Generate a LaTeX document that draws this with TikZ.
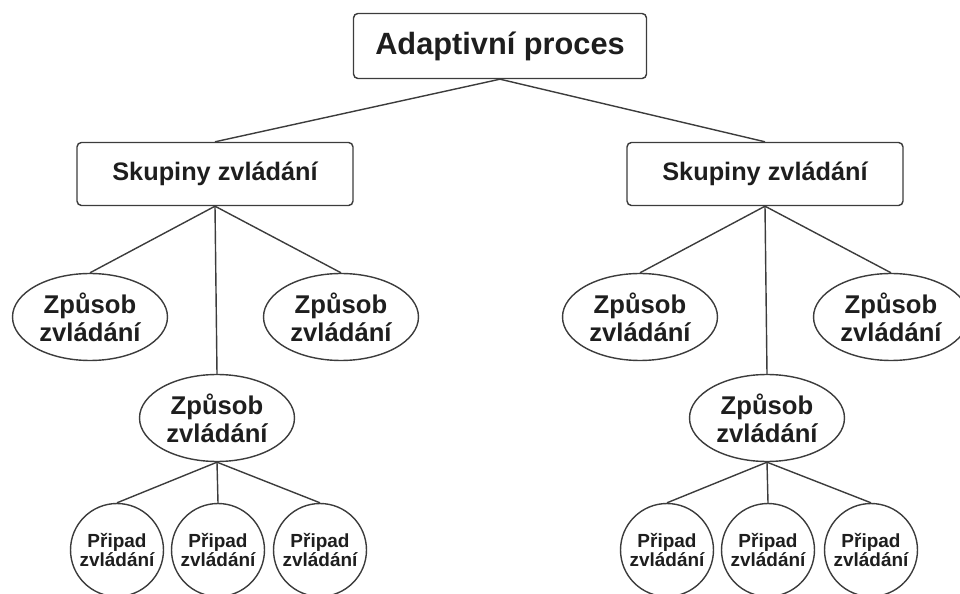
\documentclass[tikz,border=0pt]{standalone}
\usepackage{fontspec}
\setmainfont{Liberation Sans}
\usetikzlibrary{shapes.geometric}

\definecolor{ln}{RGB}{60,60,60}
\definecolor{tx}{RGB}{30,30,30}

\begin{document}
\begin{tikzpicture}[x=0.02cm, y=-0.02cm,
        head/.style={rectangle, rounded corners=2.5pt, draw=ln, line width=0.8pt, text=tx, inner sep=0pt,
            minimum width=5.86cm, minimum height=1.3cm, font=\bfseries\fontsize{17.5}{20}\selectfont},
        group/.style={rectangle, rounded corners=2.5pt, draw=ln, line width=0.8pt, text=tx, inner sep=0pt,
            minimum width=5.52cm, minimum height=1.26cm, font=\bfseries\fontsize{14.4}{16}\selectfont},
        way/.style={ellipse, draw=ln, line width=0.8pt, text=tx, inner sep=0pt, align=center,
            minimum width=3.1cm, minimum height=1.74cm, font=\bfseries\fontsize{14.6}{16}\selectfont},
        case/.style={circle, draw=ln, line width=0.8pt, text=tx, inner sep=0pt, align=center,
            minimum size=1.86cm, font=\bfseries\fontsize{10.8}{10.5}\selectfont},
        every edge/.style={draw=ln, line width=0.8pt},
    ]

    \useasboundingbox (0,0) rectangle (960,594);

    \node[head] (top) at (500,46) {Adaptivní proces};

    \node[group] (g1) at (215,174) {Skupiny zvládání};
    \node[group] (g2) at (765,174) {Skupiny zvládání};

    % left group
    \node[way] (w11) at (90,317) {Způsob\\zvládání};
    \node[way] (w12) at (341,317) {Způsob\\zvládání};
    \node[way] (w13) at (217,418) {Způsob\\zvládání};

    \node[case] (c11) at (117,550) {Připad\\zvládání};
    \node[case] (c12) at (218,550) {Připad\\zvládání};
    \node[case] (c13) at (320,550) {Připad\\zvládání};

    % right group
    \node[way] (w21) at (640,317) {Způsob\\zvládání};
    \node[way] (w22) at (891,317) {Způsob\\zvládání};
    \node[way] (w23) at (767,418) {Způsob\\zvládání};

    \node[case] (c21) at (667,550) {Připad\\zvládání};
    \node[case] (c22) at (768,550) {Připad\\zvládání};
    \node[case] (c23) at (871,550) {Připad\\zvládání};

    \path
    (top.south) edge (g1.north)
    (top.south) edge (g2.north)
    (g1.south) edge (w11.north)
    (g1.south) edge (w12.north)
    (g1.south) edge (w13.north)
    (g2.south) edge (w21.north)
    (g2.south) edge (w22.north)
    (g2.south) edge (w23.north)
    (w13.south) edge (c11.north)
    (w13.south) edge (c12.north)
    (w13.south) edge (c13.north)
    (w23.south) edge (c21.north)
    (w23.south) edge (c22.north)
    (w23.south) edge (c23.north)
    ;
\end{tikzpicture}
\end{document}
